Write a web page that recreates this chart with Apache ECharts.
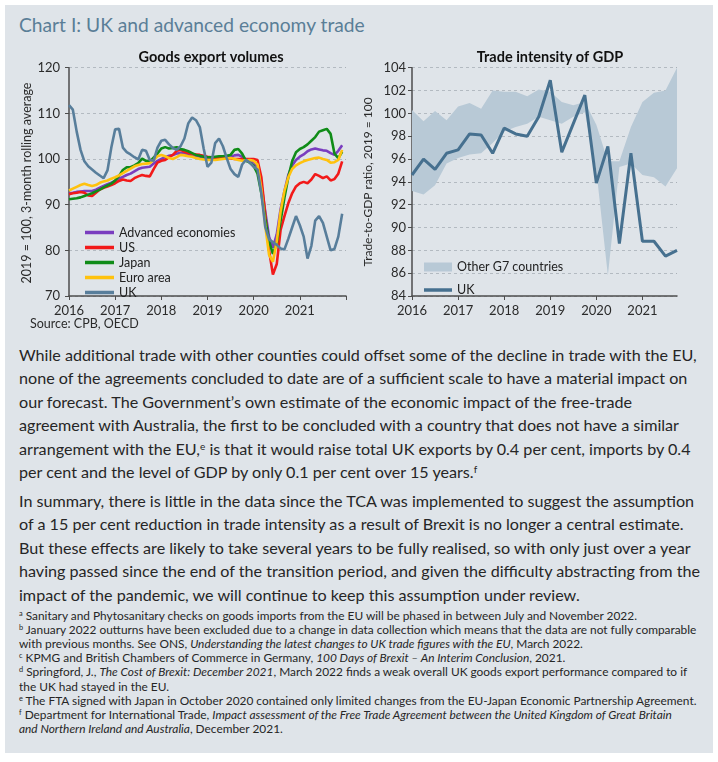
<!DOCTYPE html>
<html>
<head>
<meta charset="utf-8">
<script src="https://cdn.jsdelivr.net/npm/echarts@6/dist/echarts.min.js"></script>
<style>
html,body{margin:0;padding:0;background:#ffffff;width:718px;height:762px;overflow:hidden;}
#panel{position:absolute;left:5px;top:5px;width:708px;height:748px;background:#dfe4e9;}
#chart{position:absolute;left:0;top:0;width:718px;height:340px;}
.ln{position:absolute;left:19px;white-space:nowrap;font-family:Lato,"Liberation Sans",sans-serif;color:#262626;}
.ttl{color:#5a7e97;line-height:24px;font-size:18px;}
.bd{line-height:20px;font-size:15px;}
.fn{line-height:14px;font-size:11px;}
sup{font-size:0.62em;line-height:0;vertical-align:0.55em;}
</style>
</head>
<body>
<div id="panel"></div>
<div id="title" class="ln ttl" style="top:13px">Chart I: UK and advanced economy trade</div>
<div id="chart"></div>

<div id="p1ref" class="ln bd" style="top:345px">While additional trade with other counties could offset some of the decline in trade with the EU,</div>
<div class="ln bd" style="top:368.4px">none of the agreements concluded to date are of a sufficient scale to have a material impact on</div>
<div class="ln bd" style="top:391.8px">our forecast. The Government’s own estimate of the economic impact of the free-trade</div>
<div class="ln bd" style="top:415.2px">agreement with Australia, the first to be concluded with a country that does not have a similar</div>
<div class="ln bd" style="top:438.6px">arrangement with the EU,<sup>e</sup> is that it would raise total UK exports by 0.4 per cent, imports by 0.4</div>
<div class="ln bd" style="top:462px">per cent and the level of GDP by only 0.1 per cent over 15 years.<sup>f</sup></div>

<div class="ln bd" style="top:491px">In summary, there is little in the data since the TCA was implemented to suggest the assumption</div>
<div class="ln bd" style="top:514.4px">of a 15 per cent reduction in trade intensity as a result of Brexit is no longer a central estimate.</div>
<div class="ln bd" style="top:537.8px">But these effects are likely to take several years to be fully realised, so with only just over a year</div>
<div class="ln bd" style="top:561.2px">having passed since the end of the transition period, and given the difficulty abstracting from the</div>
<div class="ln bd" style="top:584.6px">impact of the pandemic, we will continue to keep this assumption under review.</div>

<div class="ln fn" style="top:609px"><sup>a</sup> Sanitary and Phytosanitary checks on goods imports from the EU will be phased in between July and November 2022.</div>
<div id="fnref" class="ln fn" style="top:623.1px"><sup>b</sup> January 2022 outturns have been excluded due to a change in data collection which means that the data are not fully comparable</div>
<div class="ln fn" style="top:637.2px">with previous months. See ONS, <i>Understanding the latest changes to UK trade figures with the EU</i>, March 2022.</div>
<div class="ln fn" style="top:651.3px"><sup>c</sup> KPMG and British Chambers of Commerce in Germany, <i>100 Days of Brexit – An Interim Conclusion</i>, 2021.</div>
<div class="ln fn" style="top:665.4px"><sup>d</sup> Springford, J., <i>The Cost of Brexit: December 2021</i>, March 2022 finds a weak overall UK goods export performance compared to if</div>
<div class="ln fn" style="top:679.5px">the UK had stayed in the EU.</div>
<div class="ln fn" style="top:693.6px"><sup>e</sup> The FTA signed with Japan in October 2020 contained only limited changes from the EU-Japan Economic Partnership Agreement.</div>
<div class="ln fn" style="top:707.7px"><sup>f</sup> Department for International Trade, <i>Impact assessment of the Free Trade Agreement between the United Kingdom of Great Britain</i></div>
<div class="ln fn" style="top:721.8px"><i>and Northern Ireland and Australia</i>, December 2021.</div>

<script>
// ---------- DATA ----------
// Left chart: monthly, Jan 2016 - Dec 2021 (axis runs to Jan 2022)
const months = [];
for (let y = 2016; y <= 2022; y++) {
  for (let m = 1; m <= 12; m++) {
    if (y === 2022 && m > 1) break;
    months.push(y + '-' + String(m).padStart(2, '0'));
  }
}
const advanced = [92.5, 92.6, 92.8, 92.9, 93.0, 93.0, 93.0, 93.3, 93.7, 94.1, 94.5, 94.8,
  95.2, 95.7, 96.1, 96.5, 96.8, 97.3, 97.8, 98.1, 98.2, 98.3, 99.0, 99.6,
  100.0, 100.4, 100.7, 100.9, 101.2, 101.3, 101.2, 101.0, 100.9, 100.7, 100.5, 100.3,
  100.2, 100.1, 100.2, 100.3, 100.3, 100.3, 100.5, 100.8, 100.9, 100.5, 99.9, 99.6,
  99.3, 98.2, 94.5, 88.5, 83.0, 80.6, 83.5, 89.0, 93.0, 96.5, 98.6, 99.8,
  100.5, 101.0, 101.7, 102.1, 102.3, 102.1, 101.9, 101.8, 101.3, 100.9, 101.8, 103.0];
const us = [92.3, 92.5, 92.6, 92.8, 92.6, 92.0, 91.9, 92.6, 93.3, 93.7, 94.0, 94.3,
  94.7, 95.2, 95.5, 95.3, 95.2, 95.8, 96.2, 96.5, 96.3, 96.2, 97.8, 99.2,
  99.6, 99.8, 100.4, 100.9, 101.8, 102.0, 101.6, 101.3, 101.1, 101.0, 100.9, 100.7,
  100.5, 100.4, 100.3, 100.2, 100.2, 100.2, 100.1, 100.0, 100.0, 100.0, 100.0, 100.0,
  100.0, 99.8, 96.0, 88.0, 80.0, 74.7, 77.0, 84.5, 87.5, 90.3, 92.5, 94.0,
  94.7, 95.0, 94.7, 95.5, 96.7, 96.3, 95.8, 96.2, 95.3, 95.6, 96.8, 99.5];
const japan = [91.2, 91.3, 91.4, 91.6, 91.9, 92.2, 92.5, 92.9, 93.3, 93.8, 94.2, 94.6,
  95.3, 96.3, 97.6, 98.2, 98.2, 98.6, 99.1, 100.1, 99.6, 99.4, 100.3, 101.2,
  102.3, 102.6, 102.3, 102.4, 102.6, 102.2, 102.0, 101.7, 101.3, 100.9, 100.7, 100.5,
  100.4, 100.4, 100.5, 100.6, 100.6, 100.7, 100.9, 102.0, 102.2, 101.2, 99.6, 99.2,
  98.5, 96.8, 92.5, 87.0, 82.0, 79.2, 81.5, 86.5, 91.5, 96.0, 99.5, 101.5,
  102.2, 102.6, 103.2, 104.0, 104.8, 106.0, 106.3, 106.6, 105.5, 101.2, 100.2, 101.6];
const euroArea = [93.1, 93.5, 93.9, 94.3, 94.6, 94.3, 94.1, 94.3, 94.8, 95.1, 95.3, 95.7,
  96.0, 96.4, 96.9, 97.4, 97.9, 98.4, 98.7, 98.9, 99.0, 99.1, 99.8, 100.6,
  100.9, 100.6, 100.2, 100.0, 100.4, 100.9, 100.8, 100.6, 100.5, 100.2, 100.0, 99.9,
  99.8, 99.8, 99.8, 99.9, 100.0, 100.1, 100.2, 100.0, 99.8, 99.6, 99.7, 99.8,
  99.6, 98.8, 93.5, 85.5, 79.0, 77.5, 82.0, 88.5, 93.0, 96.0, 97.8, 98.6,
  99.1, 99.5, 99.8, 100.0, 100.2, 100.3, 100.0, 99.8, 99.2, 99.3, 99.8, 102.0];
const ukGoods = [111.8, 110.8, 106.0, 102.0, 99.5, 98.4, 97.7, 97.0, 96.4, 95.8, 97.5, 102.5,
  106.5, 106.6, 102.5, 101.5, 101.0, 100.4, 99.9, 102.0, 101.8, 99.8, 99.6, 102.5,
  104.0, 104.2, 103.2, 102.4, 102.0, 102.8, 104.5, 107.8, 109.1, 108.5, 107.0, 102.3,
  98.3, 99.2, 103.5, 104.5, 102.8, 100.2, 97.8, 96.7, 96.1, 98.8, 99.8, 99.2,
  98.3, 97.7, 92.5, 85.2, 82.4, 81.8, 81.2, 80.4, 80.2, 82.5, 85.0, 87.5,
  85.5, 83.0, 78.2, 81.0, 86.5, 87.5, 86.0, 83.0, 80.0, 80.3, 83.0, 88.0];

// Right chart: quarterly, 2016 Q1 - 2021 Q4
const quarters = [];
for (let y = 2016; y <= 2021; y++) for (let q = 1; q <= 4; q++) quarters.push(y + ' Q' + q);
const ukTrade = [94.6, 96.0, 95.1, 96.5, 96.8, 98.2, 98.1, 96.5, 98.7, 98.2, 98.0, 99.7,
  102.9, 96.6, 99.1, 101.6, 93.9, 97.1, 88.6, 96.5, 88.8, 88.8, 87.5, 88.0];
const g7Low = [93.2, 92.9, 93.7, 95.6, 96.1, 96.4, 96.5, 97.4, 98.4, 98.8, 99.1, 99.7,
  99.4, 99.1, 99.7, 100.1, 95.0, 85.8, 95.3, 95.6, 94.6, 94.4, 93.6, 95.2];
const g7High = [100.3, 99.3, 100.2, 99.4, 100.6, 100.9, 100.4, 102.0, 101.9, 101.9, 101.5, 102.1,
  101.9, 101.0, 100.7, 101.0, 99.0, 95.8, 95.8, 98.8, 101.0, 101.8, 102.0, 104.0];

const yTicksLeft = {min: 70, max: 120, interval: 10};
const yTicksRight = {min: 84, max: 104, interval: 2};

// ---------- STYLE ----------
const FONT = 'Lato, "Liberation Sans", sans-serif';
const C = {
  adv: '#7a3dbf', us: '#f21a1a', jp: '#108c18', eu: '#ffc20e', uk: '#587e9b',
  uk2: '#46708f', band: '#b8c9d6', axis: '#4d4d4d', grid: '#a8afb6', text: '#2b2b2b'
};

const chart = echarts.init(document.getElementById('chart'), null, {renderer: 'canvas'});

function yAxisCfg(idx, t) {
  return {
    gridIndex: idx, type: 'value', min: t.min, max: t.max, interval: t.interval,
    axisLine: {show: true, lineStyle: {color: C.axis, width: 1.5}},
    axisTick: {show: true, length: 4, lineStyle: {color: C.axis, width: 1}},
    axisLabel: {fontFamily: FONT, fontSize: 13, color: C.text, margin: idx === 0 ? 9 : 6},
    splitLine: {show: true, lineStyle: {color: C.grid, type: [3, 3], width: 0.8}}
  };
}
function xAxisCfg(idx, cats, every, fmt) {
  return {
    gridIndex: idx, type: 'category', data: cats, boundaryGap: false,
    axisLine: {show: true, lineStyle: {color: C.axis, width: 1.5}},
    axisTick: {show: true, interval: every - 1, length: 4, lineStyle: {color: C.axis, width: 1}},
    axisLabel: {interval: every - 1, fontFamily: FONT, fontSize: 13, color: C.text, margin: 8, formatter: fmt},
    splitLine: {show: false}
  };
}
function lineSeries(name, data, color, z) {
  return {
    name, type: 'line', xAxisIndex: 0, yAxisIndex: 0, data, symbol: 'none', z,
    lineStyle: {color, width: 2.6}, itemStyle: {color}, emphasis: {disabled: true}
  };
}

const option = {
  animation: false,
  backgroundColor: 'transparent',
  grid: [
    {left: 69, top: 67.7, width: 277, height: 228.3},
    {left: 412, top: 67.7, width: 265, height: 228.3}
  ],
  xAxis: [
    xAxisCfg(0, months, 12, v => (v.endsWith('-01') && v < '2022') ? v.slice(0, 4) : ''),
    xAxisCfg(1, quarters, 4, v => v.slice(0, 4))
  ],
  yAxis: [yAxisCfg(0, yTicksLeft), yAxisCfg(1, yTicksRight)],
  legend: [
    {
      orient: 'vertical', left: 80, top: 220, itemWidth: 29, itemHeight: 3.5, itemGap: 0,
      icon: 'rect', selectedMode: false,
      textStyle: {fontFamily: FONT, fontSize: 12.5, color: '#222', lineHeight: 15},
      data: [
        {name: 'Advanced economies', itemStyle: {color: C.adv}},
        {name: 'US', itemStyle: {color: C.us}},
        {name: 'Japan', itemStyle: {color: C.jp}},
        {name: 'Euro area', itemStyle: {color: C.eu}},
        {name: 'UK', itemStyle: {color: C.uk}}
      ]
    },
    {
      orient: 'vertical', left: 419, top: 254.5, itemWidth: 28, itemHeight: 9, itemGap: 0,
      icon: 'rect', selectedMode: false,
      textStyle: {fontFamily: FONT, fontSize: 12.5, color: '#222', lineHeight: 15},
      data: [{name: 'Other G7 countries', itemStyle: {color: C.band}}]
    },
    {
      orient: 'vertical', left: 419, top: 277.5, itemWidth: 28, itemHeight: 3.5, itemGap: 0,
      icon: 'rect', selectedMode: false,
      textStyle: {fontFamily: FONT, fontSize: 12.5, color: '#222', lineHeight: 15},
      data: [{name: 'UK', itemStyle: {color: C.uk2}}]
    }
  ],
  series: [
    lineSeries('Advanced economies', advanced, C.adv, 2),
    lineSeries('US', us, C.us, 3),
    lineSeries('Japan', japan, C.jp, 4),
    lineSeries('Euro area', euroArea, C.eu, 5),
    lineSeries('UK', ukGoods, C.uk, 6),
    {
      name: 'g7base', type: 'line', xAxisIndex: 1, yAxisIndex: 1, data: g7Low, stack: 'g7',
      symbol: 'none', lineStyle: {opacity: 0, width: 0}, silent: true, z: 1
    },
    {
      name: 'Other G7 countries', type: 'line', xAxisIndex: 1, yAxisIndex: 1,
      data: g7High.map((v, i) => +(v - g7Low[i]).toFixed(2)), stack: 'g7',
      symbol: 'none', lineStyle: {opacity: 0, width: 0}, itemStyle: {color: C.band},
      areaStyle: {color: C.band, opacity: 1}, silent: true, z: 1
    },
    {
      name: 'UK', type: 'line', xAxisIndex: 1, yAxisIndex: 1, data: ukTrade, symbol: 'none', z: 3,
      lineStyle: {color: C.uk2, width: 3}, itemStyle: {color: C.uk2}
    }
  ],
  graphic: [
    {type: 'text', x: 211, y: 57, style: {text: 'Goods export volumes', fontFamily: FONT, fontSize: 14.5, fontWeight: 'bold', fill: '#111', align: 'center', verticalAlign: 'middle'}},
    {type: 'text', x: 550, y: 57, style: {text: 'Trade intensity of GDP', fontFamily: FONT, fontSize: 14.5, fontWeight: 'bold', fill: '#111', align: 'center', verticalAlign: 'middle'}},
    {type: 'text', x: 27, y: 183, rotation: Math.PI / 2, style: {text: '2019 = 100, 3-month rolling average', fontFamily: FONT, fontSize: 12.5, fill: C.text, align: 'center', verticalAlign: 'middle'}},
    {type: 'text', x: 368, y: 182, rotation: Math.PI / 2, style: {text: 'Trade-to-GDP ratio, 2019 = 100', fontFamily: FONT, fontSize: 12, fill: C.text, align: 'center', verticalAlign: 'middle'}},
    {type: 'text', x: 30, y: 324, style: {text: 'Source: CPB, OECD', fontFamily: FONT, fontSize: 12.5, fill: C.text, align: 'left', verticalAlign: 'middle'}}
  ]
};
chart.setOption(option);

// ---------- fit text blocks to the reference line widths ----------
function fit(refEl, target, cls) {
  const w = refEl.getBoundingClientRect().width;
  const fs = parseFloat(getComputedStyle(refEl).fontSize);
  const nf = fs * target / w;
  document.querySelectorAll(cls).forEach(e => e.style.fontSize = nf + 'px');
}
fit(document.getElementById('title'), 346, '.ttl');
fit(document.getElementById('p1ref'), 678, '.bd');
fit(document.getElementById('fnref'), 678, '.fn');
</script>
</body>
</html>
